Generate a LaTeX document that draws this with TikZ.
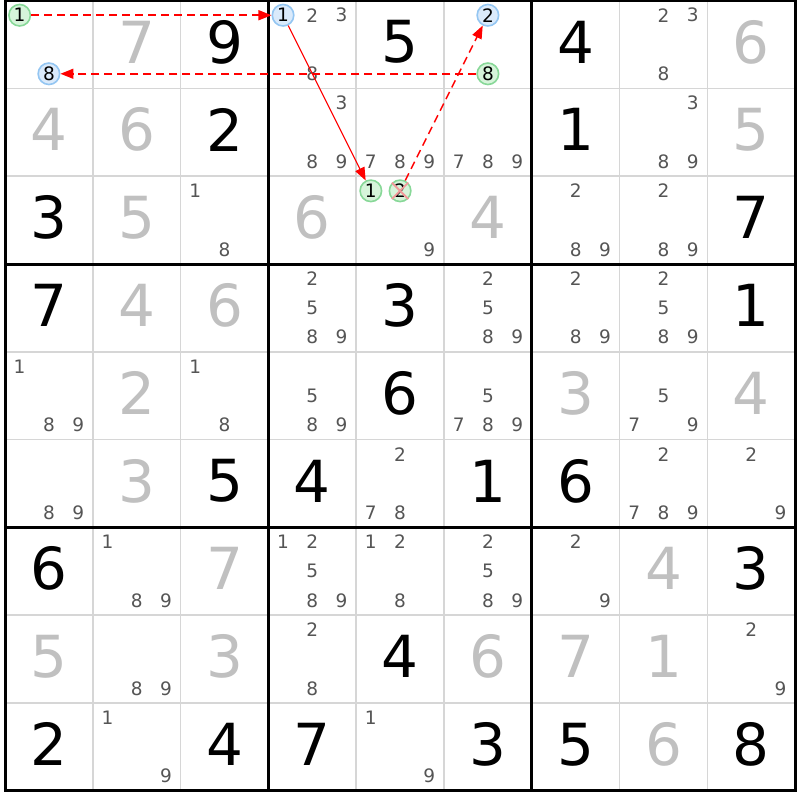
\documentclass[tikz,border=0pt]{standalone}
\usepackage{fontspec}
\setmainfont{DejaVu Sans}
\usetikzlibrary{arrows.meta}
\definecolor{solvedc}{HTML}{C0C0C0}
\definecolor{candc}{HTML}{555555}
\definecolor{gridc}{HTML}{D6D6D6}
\definecolor{gfill}{HTML}{D6F4DA}
\definecolor{gline}{HTML}{88D898}
\definecolor{bfill}{HTML}{DAEAFB}
\definecolor{bline}{HTML}{94C6F2}
\definecolor{linkred}{HTML}{FF0000}
\definecolor{xpink}{HTML}{F29A9A}
\begin{document}
\begin{tikzpicture}[x=1pt,y=-1pt,
  given/.style={font=\fontsize{58}{58}\selectfont, text=black, inner sep=0pt},
  solved/.style={given, text=solvedc},
  cand/.style={font=\fontsize{18.5}{18.5}\selectfont, text=candc, inner sep=0pt},
  gcirc/.style={circle, draw=gline, fill=gfill, line width=1.6pt, minimum size=21.5pt, inner sep=0pt, text=black, font=\fontsize{18.5}{18.5}\selectfont},
  bcirc/.style={gcirc, draw=bline, fill=bfill},
  gridthin/.style={draw=gridc, line width=1.6pt},
  gridthick/.style={draw=black, line width=3pt},
  link/.style={draw=linkred, line width=1.1pt, -{Triangle[length=13pt,width=10pt]}},
  weak/.style={link, line width=1.5pt, dash pattern=on 8pt off 5pt},
  xmark/.style={draw=xpink, line width=1.8pt}
]
\useasboundingbox (0,0) rectangle (800,800);
\fill[white] (0,0) rectangle (800,800);
\def\X{5}
\def\Y{0.6}
\def\C{87.8}
% thin grid
\foreach \i in {1,2,4,5,7,8} {
  \draw[gridthin] (\X+\i*\C,\Y) -- (\X+\i*\C,\Y+9*\C);
  \draw[gridthin] (\X,\Y+\i*\C) -- (\X+9*\C,\Y+\i*\C);
}
% thick grid
\foreach \i in {3,6} {
  \draw[gridthick] (\X+\i*\C,\Y) -- (\X+\i*\C,\Y+9*\C);
  \draw[gridthick] (\X,\Y+\i*\C) -- (\X+9*\C,\Y+\i*\C);
}
\draw[gridthick] (\X,\Y) rectangle (\X+9*\C,\Y+9*\C);
% givens
\foreach \r/\c/\d in {1/3/9,1/5/5,1/7/4,2/3/2,2/7/1,3/1/3,3/9/7,4/1/7,4/5/3,4/9/1,5/5/6,6/3/5,6/4/4,6/6/1,6/7/6,7/1/6,7/9/3,8/5/4,9/1/2,9/3/4,9/4/7,9/6/3,9/7/5,9/9/8}
  \node[given] (g\r\c) at (\X+\c*\C-0.5*\C,\Y+\r*\C-0.5*\C-2.5) {\d};
% solved
\foreach \r/\c/\d in {1/2/7,1/9/6,2/1/4,2/2/6,2/9/5,3/2/5,3/4/6,3/6/4,4/2/4,4/3/6,5/2/2,5/7/3,5/9/4,6/2/3,7/3/7,7/8/4,8/1/5,8/3/3,8/6/6,8/7/7,8/8/1,9/8/6}
  \node[solved] (s\r\c) at (\X+\c*\C-0.5*\C,\Y+\r*\C-0.5*\C-2.5) {\d};
% plain candidates
\foreach \r/\c/\ds in {1/4/{2,3,8},1/8/{2,3,8},2/4/{3,8,9},2/5/{7,8,9},2/6/{7,8,9},2/8/{3,8,9},3/3/{1,8},3/5/{9},3/7/{2,8,9},3/8/{2,8,9},4/4/{2,5,8,9},4/6/{2,5,8,9},4/7/{2,8,9},4/8/{2,5,8,9},5/1/{1,8,9},5/3/{1,8},5/4/{5,8,9},5/6/{5,7,8,9},5/8/{5,7,9},6/1/{8,9},6/5/{2,7,8},6/8/{2,7,8,9},6/9/{2,9},7/2/{1,8,9},7/4/{1,2,5,8,9},7/5/{1,2,8},7/6/{2,5,8,9},7/7/{2,9},8/2/{8,9},8/4/{2,8},8/9/{2,9},9/2/{1,9},9/5/{1,9}} {
  \foreach \d in \ds {
    \pgfmathtruncatemacro\cc{mod(\d-1,3)}
    \pgfmathtruncatemacro\rr{(\d-1)/3}
    \node[cand] (n\r\c\d) at (\X+\c*\C-\C+\cc*\C/3+\C/6,\Y+\r*\C-\C+\rr*\C/3+\C/6) {\d};
  }
}
% circled candidates
\foreach \r/\c/\d/\s in {1/1/1/gcirc,1/1/8/bcirc,1/4/1/bcirc,1/6/2/bcirc,1/6/8/gcirc,3/5/1/gcirc,3/5/2/gcirc} {
  \pgfmathtruncatemacro\cc{mod(\d-1,3)}
  \pgfmathtruncatemacro\rr{(\d-1)/3}
  \node[\s] (k\r\c\d) at (\X+\c*\C-\C+\cc*\C/3+\C/6,\Y+\r*\C-\C+\rr*\C/3+\C/6) {\d};
}
% links
\draw[weak] (k111) -- (k141);
\draw[weak] (k168) -- (k118);
\draw[link] (k141) -- (k351);
\draw[weak] (k352) -- (k162);
% elimination mark
\draw[xmark] (k352.135) -- (k352.-45);
\draw[xmark] (k352.45) -- (k352.-135);
\end{tikzpicture}
\end{document}
